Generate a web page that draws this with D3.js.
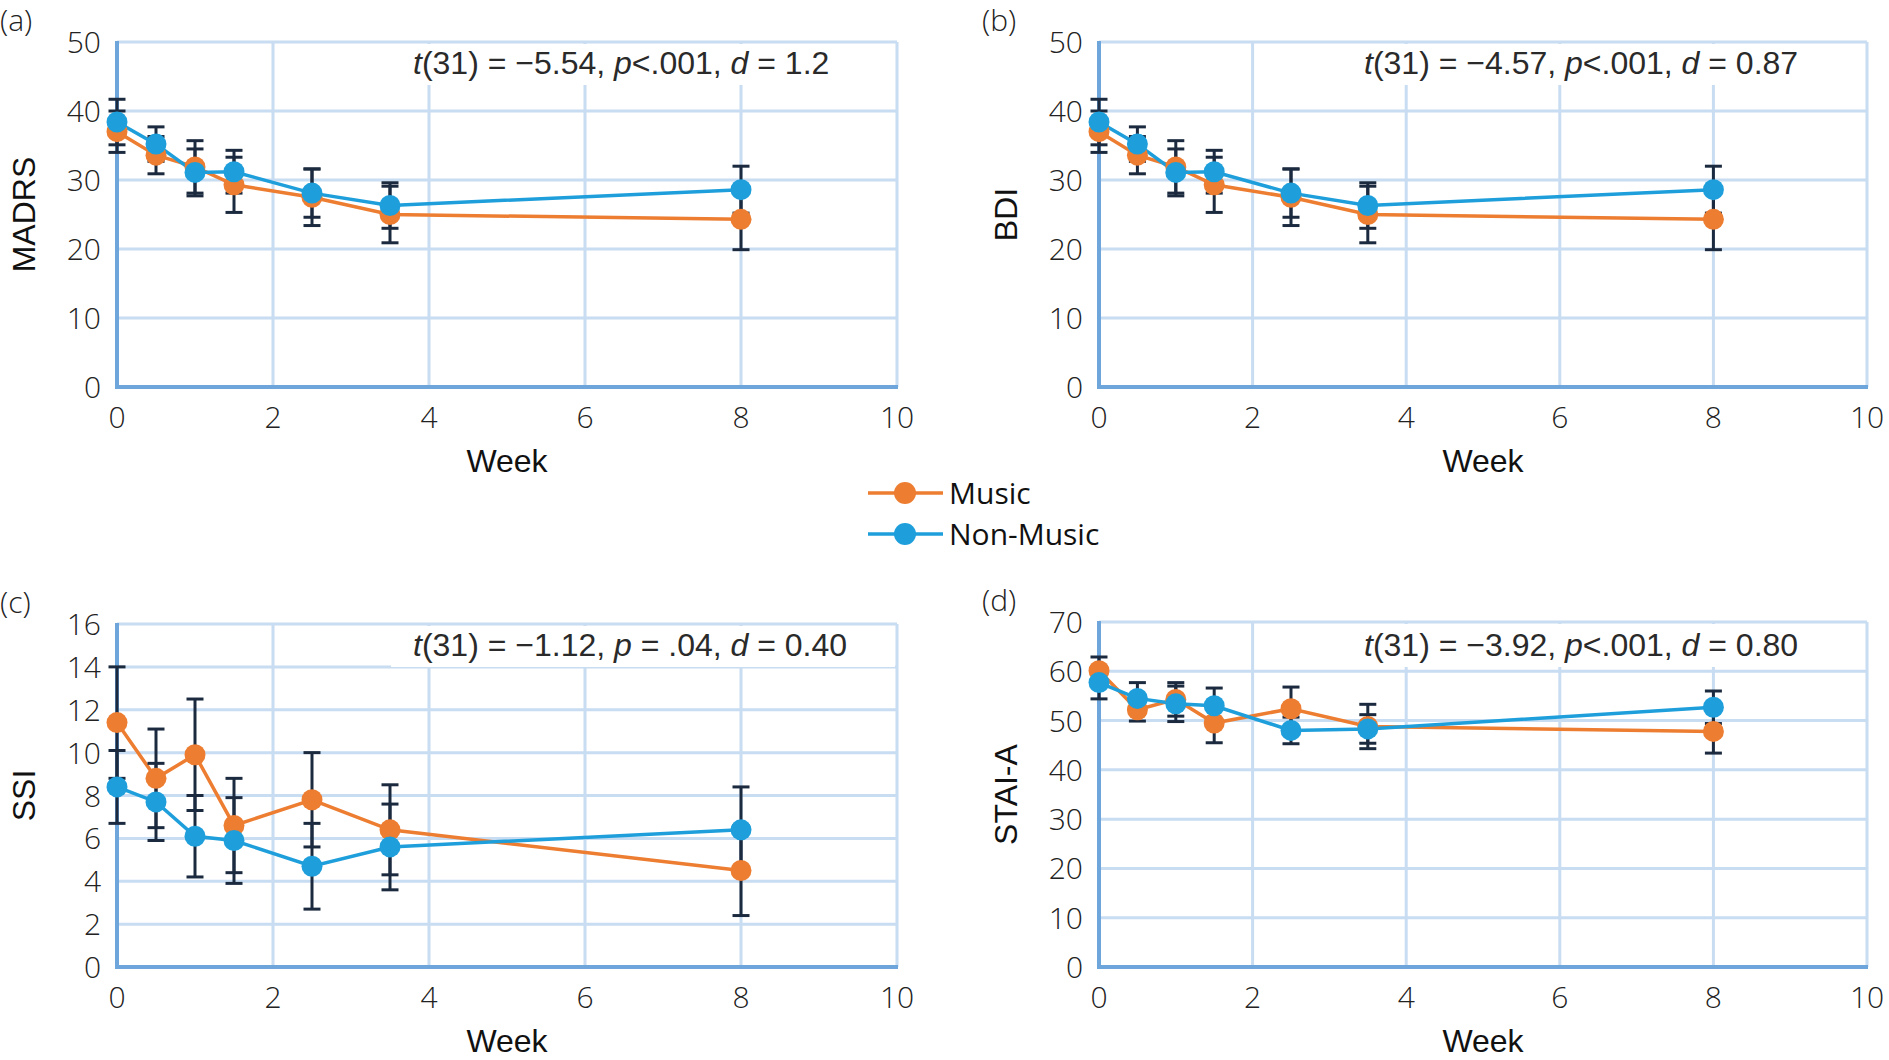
<!DOCTYPE html>
<html>
<head>
<meta charset="utf-8">
<script src="https://cdn.jsdelivr.net/npm/d3@7"></script>
<style>
  body { margin: 0; background: #fff; }
  .tick-lbl { font-family: "Open Sans", "Noto Sans", sans-serif; font-weight: 300; font-size: 30px; fill: #222; }
  .ax-title { font-family: "Liberation Sans", Arial, sans-serif; font-size: 32px; fill: #111; }
  .stat { font-family: "Liberation Sans", Arial, sans-serif; font-size: 32px; fill: #2a2a2a; }
  .leg { font-family: "Open Sans", "Noto Sans", sans-serif; font-size: 30px; fill: #111; }
</style>
</head>
<body>
<div id="chart"></div>
<script>
// ---- data ----
var weeks = [0, 0.5, 1, 1.5, 2.5, 3.5, 8];

var madrsMusic = [37.0, 33.6, 31.9, 29.3, 27.5, 25.0, 24.3];
var madrsMusicErr = [3.0, 2.7, 3.8, 4.0, 4.1, 4.1, 4.4];
var madrsNonMusic = [38.4, 35.2, 31.1, 31.2, 28.1, 26.3, 28.6];
var madrsNonMusicErr = [3.3, 2.5, 3.4, 3.1, 3.5, 3.3, 3.4];

var bdiMusic = [37.0, 33.6, 31.9, 29.3, 27.5, 25.0, 24.3];
var bdiMusicErr = [3.0, 2.7, 3.8, 4.0, 4.1, 4.1, 4.4];
var bdiNonMusic = [38.4, 35.2, 31.1, 31.2, 28.1, 26.3, 28.6];
var bdiNonMusicErr = [3.3, 2.5, 3.4, 3.1, 3.5, 3.3, 3.4];

var ssiMusic = [11.4, 8.8, 9.9, 6.6, 7.8, 6.4, 4.5];
var ssiMusicErr = [2.6, 2.3, 2.6, 2.2, 2.2, 2.1, 2.1];
var ssiNonMusic = [8.4, 7.7, 6.1, 5.9, 4.7, 5.6, 6.4];
var ssiNonMusicErr = [1.7, 1.8, 1.9, 2.0, 2.0, 2.0, 2.0];

var staiMusic = [60.1, 52.2, 54.3, 49.5, 52.4, 48.8, 47.8];
var staiMusicErr = [2.8, 2.3, 3.4, 4.0, 4.4, 4.5, 4.4];
var staiNonMusic = [57.7, 54.5, 53.4, 53.0, 48.0, 48.3, 52.7];
var staiNonMusicErr = [3.3, 3.2, 3.6, 3.6, 2.7, 2.9, 3.3];

var xTicks = [0, 2, 4, 6, 8, 10];
var madrsTicks = [0, 10, 20, 30, 40, 50];
var ssiTicks = [0, 2, 4, 6, 8, 10, 12, 14, 16];
var staiTicks = [0, 10, 20, 30, 40, 50, 60, 70];

var seriesNames = ["Music", "Non-Music"];
var panelLabels = ["(a)", "(b)", "(c)", "(d)"];
var yTitles = ["MADRS", "BDI", "SSI", "STAI-A"];
// [text, italic] pieces
var statsA = [["t", 1], ["(31) = \u22125.54, ", 0], ["p", 1], ["<.001, ", 0], ["d", 1], [" = 1.2", 0]];
var statsB = [["t", 1], ["(31) = \u22124.57, ", 0], ["p", 1], ["<.001, ", 0], ["d", 1], [" = 0.87", 0]];
var statsC = [["t", 1], ["(31) = \u22121.12, ", 0], ["p", 1], [" = .04, ", 0], ["d", 1], [" = 0.40", 0]];
var statsD = [["t", 1], ["(31) = \u22123.92, ", 0], ["p", 1], ["<.001, ", 0], ["d", 1], [" = 0.80", 0]];

var colors = ["#ED7D31", "#1E9FDB"];
var errColor = "#1b2a3f";
var gridColor = "#c8dcf2";
var axisColor = "#6ea6dc";

var svgWidth = 1889, svgHeight = 1060;

var svg = d3.select("#chart").append("svg")
  .attr("width", svgWidth)
  .attr("height", svgHeight);

var panels = [
  { left: 117, right: 897, top: 42, bottom: 387, ticks: madrsTicks, label: panelLabels[0], title: yTitles[0], stats: statsA, statX: 413, statY: 74,
    series: [[madrsMusic, madrsMusicErr], [madrsNonMusic, madrsNonMusicErr]] },
  { left: 1099, right: 1867, top: 42, bottom: 387, ticks: madrsTicks, label: panelLabels[1], title: yTitles[1], stats: statsB, statX: 1364, statY: 74,
    series: [[bdiMusic, bdiMusicErr], [bdiNonMusic, bdiNonMusicErr]] },
  { left: 117, right: 897, top: 624, bottom: 967, ticks: ssiTicks, label: panelLabels[2], title: yTitles[2], stats: statsC, statX: 413, statY: 656,
    series: [[ssiMusic, ssiMusicErr], [ssiNonMusic, ssiNonMusicErr]] },
  { left: 1099, right: 1867, top: 622, bottom: 967, ticks: staiTicks, label: panelLabels[3], title: yTitles[3], stats: statsD, statX: 1364, statY: 656,
    series: [[staiMusic, staiMusicErr], [staiNonMusic, staiNonMusicErr]] }
];

panels.forEach(function(p) {
  var g = svg.append("g");
  var x = d3.scaleLinear().domain([0, 10]).range([p.left, p.right]);
  var y = d3.scaleLinear().domain([0, d3.max(p.ticks)]).range([p.bottom, p.top]);

  // gridlines
  g.append("g").selectAll("line").data(p.ticks.slice(1)).enter().append("line")
    .attr("x1", p.left).attr("x2", p.right)
    .attr("y1", d => y(d)).attr("y2", d => y(d))
    .attr("stroke", gridColor).attr("stroke-width", 3);
  g.append("g").selectAll("line").data(xTicks.slice(1)).enter().append("line")
    .attr("x1", d => x(d)).attr("x2", d => x(d))
    .attr("y1", p.top).attr("y2", p.bottom)
    .attr("stroke", gridColor).attr("stroke-width", 3);

  // white box behind the stats text
  g.append("rect")
    .attr("x", p.statX - 22).attr("y", p.top + 2)
    .attr("width", p.right - 2 - (p.statX - 22)).attr("height", p.statY + 11 - (p.top + 2))
    .attr("fill", "#fff");

  // axes (left + bottom)
  g.append("line").attr("x1", p.left).attr("x2", p.left).attr("y1", p.top - 1).attr("y2", p.bottom + 2)
    .attr("stroke", axisColor).attr("stroke-width", 4);
  g.append("line").attr("x1", p.left - 2).attr("x2", p.right + 1).attr("y1", p.bottom).attr("y2", p.bottom)
    .attr("stroke", axisColor).attr("stroke-width", 4);

  // tick labels
  g.append("g").selectAll("text").data(p.ticks).enter().append("text")
    .attr("class", "tick-lbl")
    .attr("x", p.left - 16).attr("y", d => y(d) + 11)
    .attr("text-anchor", "end")
    .text(d => d);
  g.append("g").selectAll("text").data(xTicks).enter().append("text")
    .attr("class", "tick-lbl")
    .attr("x", d => x(d)).attr("y", p.bottom + 41)
    .attr("text-anchor", "middle")
    .text(d => d);

  // titles
  g.append("text").attr("class", "ax-title")
    .attr("x", (p.left + p.right) / 2).attr("y", p.bottom + 85)
    .attr("text-anchor", "middle").text("Week");
  g.append("text").attr("class", "ax-title")
    .attr("transform", `translate(${p.left - 82},${(p.top + p.bottom) / 2})rotate(-90)`)
    .attr("text-anchor", "middle").text(p.title);
  g.append("text").attr("class", "tick-lbl")
    .attr("x", p.left - 117).attr("y", p.top - 11)
    .attr("font-size", "27px")
    .text(p.label);

  // stats text
  var st = g.append("text").attr("class", "stat").attr("x", p.statX).attr("y", p.statY);
  p.stats.forEach(function(s) {
    st.append("tspan").attr("font-style", s[1] ? "italic" : "normal").text(s[0]);
  });

  // series: lines, error bars, markers
  var line = d3.line().x((d, i) => x(weeks[i])).y(d => y(d));
  p.series.forEach(function(s, k) {
    g.append("path").datum(s[0])
      .attr("d", line)
      .attr("fill", "none")
      .attr("stroke", colors[k]).attr("stroke-width", 3.5);
  });
  p.series.forEach(function(s, k) {
    var eb = g.append("g").attr("stroke", errColor).attr("stroke-width", 3);
    s[0].forEach(function(v, i) {
      var cx = x(weeks[i]), lo = y(v - s[1][i]), hi = y(v + s[1][i]);
      eb.append("line").attr("x1", cx).attr("x2", cx).attr("y1", lo).attr("y2", hi);
      eb.append("line").attr("x1", cx - 8.5).attr("x2", cx + 8.5).attr("y1", lo).attr("y2", lo);
      eb.append("line").attr("x1", cx - 8.5).attr("x2", cx + 8.5).attr("y1", hi).attr("y2", hi);
    });
  });
  p.series.forEach(function(s, k) {
    g.append("g").selectAll("circle").data(s[0]).enter().append("circle")
      .attr("cx", (d, i) => x(weeks[i]))
      .attr("cy", d => y(d))
      .attr("r", 10.5)
      .attr("fill", colors[k]);
  });
});

// legend
var legend = svg.append("g");
var legendY = [493, 534];
seriesNames.forEach(function(name, k) {
  legend.append("line").attr("x1", 868).attr("x2", 943).attr("y1", legendY[k]).attr("y2", legendY[k])
    .attr("stroke", colors[k]).attr("stroke-width", 3.5);
  legend.append("circle").attr("cx", 905).attr("cy", legendY[k]).attr("r", 11).attr("fill", colors[k]);
  legend.append("text").attr("class", "leg").attr("x", 949).attr("y", legendY[k] + 11).text(name);
});
</script>
</body>
</html>
